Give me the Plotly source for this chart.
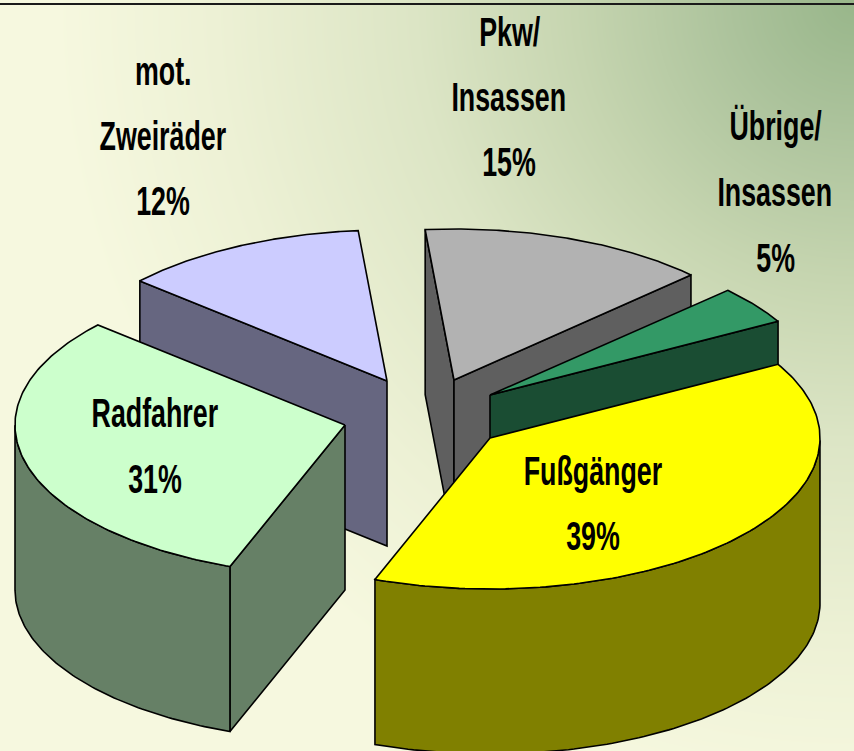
import math
import numpy as np
import plotly.graph_objects as go

# Data
slice_names = ["mot. Zweiräder", "Pkw/Insassen", "Übrige/Insassen", "Fußgänger", "Radfahrer"]
printed_percent = [12, 15, 5, 39, 31]
# shares actually swept by each slice, measured on the picture (printed labels are rounded, sum 102)
swept_share = [12.08, 14.14, 4.14, 38.78, 30.86]
label_lines = [["mot.", "Zweiräder"], ["Pkw/", "Insassen"], ["Übrige/", "Insassen"], ["Fußgänger"], ["Radfahrer"]]

# Styling and layout
top_colors = ["#CCCCFF", "#B2B2B2", "#339966", "#FFFF00", "#CCFFCC"]
wall_colors = ["#666680", "#5F5F5F", "#1A4D33", "#808000", "#668066"]
apex = [(387, 381), (454, 380), (490, 395), (490, 438), (345, 425)]
label_pos = [(163, 201), (509, 162), (775, 258), (593, 536), (155, 479)]
line_gap = [65, 65, 66, 65, 66]
draw_order = [0, 1, 2, 4, 3]
START_DEG = 138.5
RX, RY, DEPTH = 330, 151, 165
W, H = 854, 751
FONT = "Liberation Sans"
FS = 41
TEXT_SQUEEZE = 0.654
BASELINE_SHIFT = 0

fig = go.Figure()

# Background gradient, lightening away from the top-right corner
gx = np.linspace(0, W, 70)
gy = np.linspace(0, H, 70)
gz = [[min(1.0, math.hypot(W - x, y) / 800) for x in gx] for y in gy]
fig.add_trace(go.Heatmap(
    x=gx, y=gy, z=gz, zmin=0, zmax=1, zsmooth="best", showscale=False, hoverinfo="skip",
    colorscale=[[0, "#98B68A"], [0.15, "#ABC29B"], [0.35, "#C6D5B0"], [0.55, "#DCE5C5"],
                [0.8, "#EDF1D5"], [1, "#F6F8DF"]],
))


def poly(xs, ys, color):
    fig.add_trace(go.Scatter(
        x=list(xs), y=list(ys), mode="lines", fill="toself", fillcolor=color,
        line=dict(color="black", width=1.6), hoverinfo="skip", showlegend=False,
    ))


total = sum(swept_share)
bounds = [START_DEG]
for s in swept_share:
    bounds.append(bounds[-1] - s / total * 360)

for i in draw_order:
    ax, ay = apex[i]
    t0, t1 = bounds[i], bounds[i + 1]
    t = np.radians(np.linspace(t0, t1, 140))
    ex = ax + RX * np.cos(t)
    ey = ay - RY * np.sin(t)
    # radial walls, only those turned towards the viewer
    for k, visible in ((0, math.cos(math.radians(t0)) < 0), (-1, math.cos(math.radians(t1)) > 0)):
        if visible:
            poly([ax, ex[k], ex[k], ax, ax], [ay, ey[k], ey[k] + DEPTH, ay + DEPTH, ay], wall_colors[i])
    # curved wall: only the front half of the ellipse faces the viewer
    front = np.sin(t) < 0
    if front.any():
        fx, fy = ex[front], ey[front]
        poly(np.r_[fx, fx[::-1], fx[0]], np.r_[fy, fy[::-1] + DEPTH, fy[0]], wall_colors[i])
    # top face
    poly(np.r_[ax, ex, ax], np.r_[ay, ey, ay], top_colors[i])

# Labels
for i, lines in enumerate(label_lines):
    cx, base = label_pos[i]
    texts = lines + [f"{printed_percent[i]}%"]
    for j, txt in enumerate(texts):
        fig.add_annotation(
            x=cx, y=base - (len(texts) - 1 - j) * line_gap[i] + BASELINE_SHIFT, text=txt, showarrow=False,
            font=dict(family=FONT, size=FS, color="black", weight="bold"),
            xanchor="center", yanchor="middle",
        )

# Rule along the top edge
fig.add_shape(type="line", x0=0, x1=W, y0=4, y1=4, line=dict(color="#1A1A1A", width=2))

fig.update_xaxes(range=[0, W], visible=False, fixedrange=True)
fig.update_yaxes(range=[H, 0], visible=False, fixedrange=True)
fig.update_layout(width=W, height=H, margin=dict(l=0, r=0, t=0, b=0), showlegend=False,
                  paper_bgcolor="#F6F8DF", plot_bgcolor="#F6F8DF")

# Remove the page margin and condense the labels horizontally about their centres
post = """
document.body.style.margin = '0';
document.documentElement.style.overflow = 'hidden';
document.querySelectorAll('.annotation-text').forEach(function (t) {
  var b = t.getBBox();
  var cx = b.x + b.width / 2;
  t.setAttribute('transform', 'translate(' + cx + ',0) scale(%s,1) translate(' + (-cx) + ',0)');
});
""" % TEXT_SQUEEZE
fig.write_html("out.html", config={"displayModeBar": False}, post_script=post)
